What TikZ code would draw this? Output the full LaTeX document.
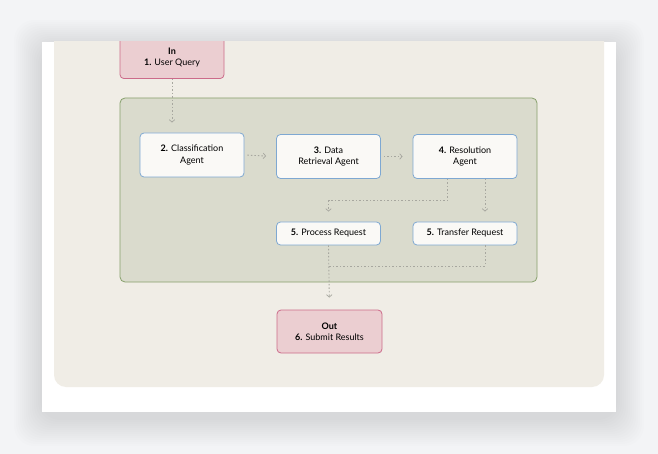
\documentclass[tikz,border=0pt]{standalone}
\usepackage{fontspec}
\setmainfont{Lato}
\usetikzlibrary{arrows.meta}
\definecolor{pagegray}{HTML}{F3F4F6}
\definecolor{panelbeige}{HTML}{F0EDE6}
\definecolor{groupfill}{HTML}{DADBCD}
\definecolor{groupline}{HTML}{87A06C}
\definecolor{ioFill}{HTML}{EBCED1}
\definecolor{ioLine}{HTML}{CC6B8A}
\definecolor{agentFill}{HTML}{FAF9F6}
\definecolor{agentLine}{HTML}{7EA8D2}
\definecolor{flowgray}{HTML}{A7A79F}
\tikzset{
	agent/.style={draw=agentLine, fill=agentFill, line width=0.8pt, rounded corners=4pt,
		minimum width=104pt, minimum height=44pt, align=center, inner sep=2pt,
		font=\fontsize{9}{11.5}\selectfont},
	task/.style={agent, minimum height=23pt},
	iobox/.style={agent, draw=ioLine, fill=ioFill},
	flowline/.style={draw=flowgray, line width=0.9pt, dash pattern=on 1.5pt off 2pt},
	flow/.style={flowline, -{Straight Barb[length=2.5pt,width=5.5pt,line width=0.7pt]}, shorten >=10pt}
}
\begin{document}
\begin{tikzpicture}[x=1pt,y=-1pt]
		\useasboundingbox (0,0) rectangle (658,454);
		%%  page and card  %%%%%%%%
		\fill[pagegray] (0,0) rectangle (658,454);
		\foreach \i in {1,...,14}
			\fill[black, opacity=0.009, rounded corners=20pt] (42-2*\i,42-2*\i+6) rectangle (616+2*\i,412+2*\i+6);
		\fill[white] (42,42) rectangle (616,412);
		\begin{scope}
			\clip (42,42) rectangle (616,412);
			\fill[panelbeige, rounded corners=12pt] (54,20) rectangle (604,387);
			\node[iobox, anchor=south, minimum height=42pt] (in) at (172,79) {\textbf{In}\\\textbf{1.} User Query};
		\end{scope}
		%%  agent group  %%%%%%%%
		\draw[groupline, fill=groupfill, line width=0.8pt, rounded corners=5pt] (120,98) rectangle (537,282);
		\node[agent] (cls) at (192,155) {\textbf{2.} Classification\\Agent};
		\node[agent] (data) at (328.5,156.5) {\textbf{3.} Data\\Retrieval Agent};
		\node[agent] (res) at (465,156.5) {\textbf{4.} Resolution\\Agent};
		\node[task] (proc) at (328.5,233.5) {\textbf{5.} Process Request};
		\node[task] (tran) at (465,233.5) {\textbf{5.} Transfer Request};
		\node[iobox, minimum width=105pt, minimum height=43pt] (out) at (329.5,331.5) {\textbf{Out}\\\textbf{6.} Submit Results};
		\coordinate (merge) at (proc.south |- 0,266);
		%%  flows  %%%%%%%%
		\draw[flow] (in.south) -- (in.south |- cls.north);
		\draw[flow, shorten <=3pt] (cls.east) -- (data.west);
		\draw[flow, shorten <=3pt] (data.east) -- (res.west);
		\draw[flow] ([xshift=-18pt]res.south) -- ++(0,22) -| (proc.north);
		\draw[flow] ([xshift=20pt]res.south) -- ([xshift=20pt]tran.north);
		\draw[flow, shorten >=12pt] (proc.south) -- (out.north);
		\draw[flowline] ([xshift=20pt]tran.south) |- (merge);
\end{tikzpicture}
\end{document}
